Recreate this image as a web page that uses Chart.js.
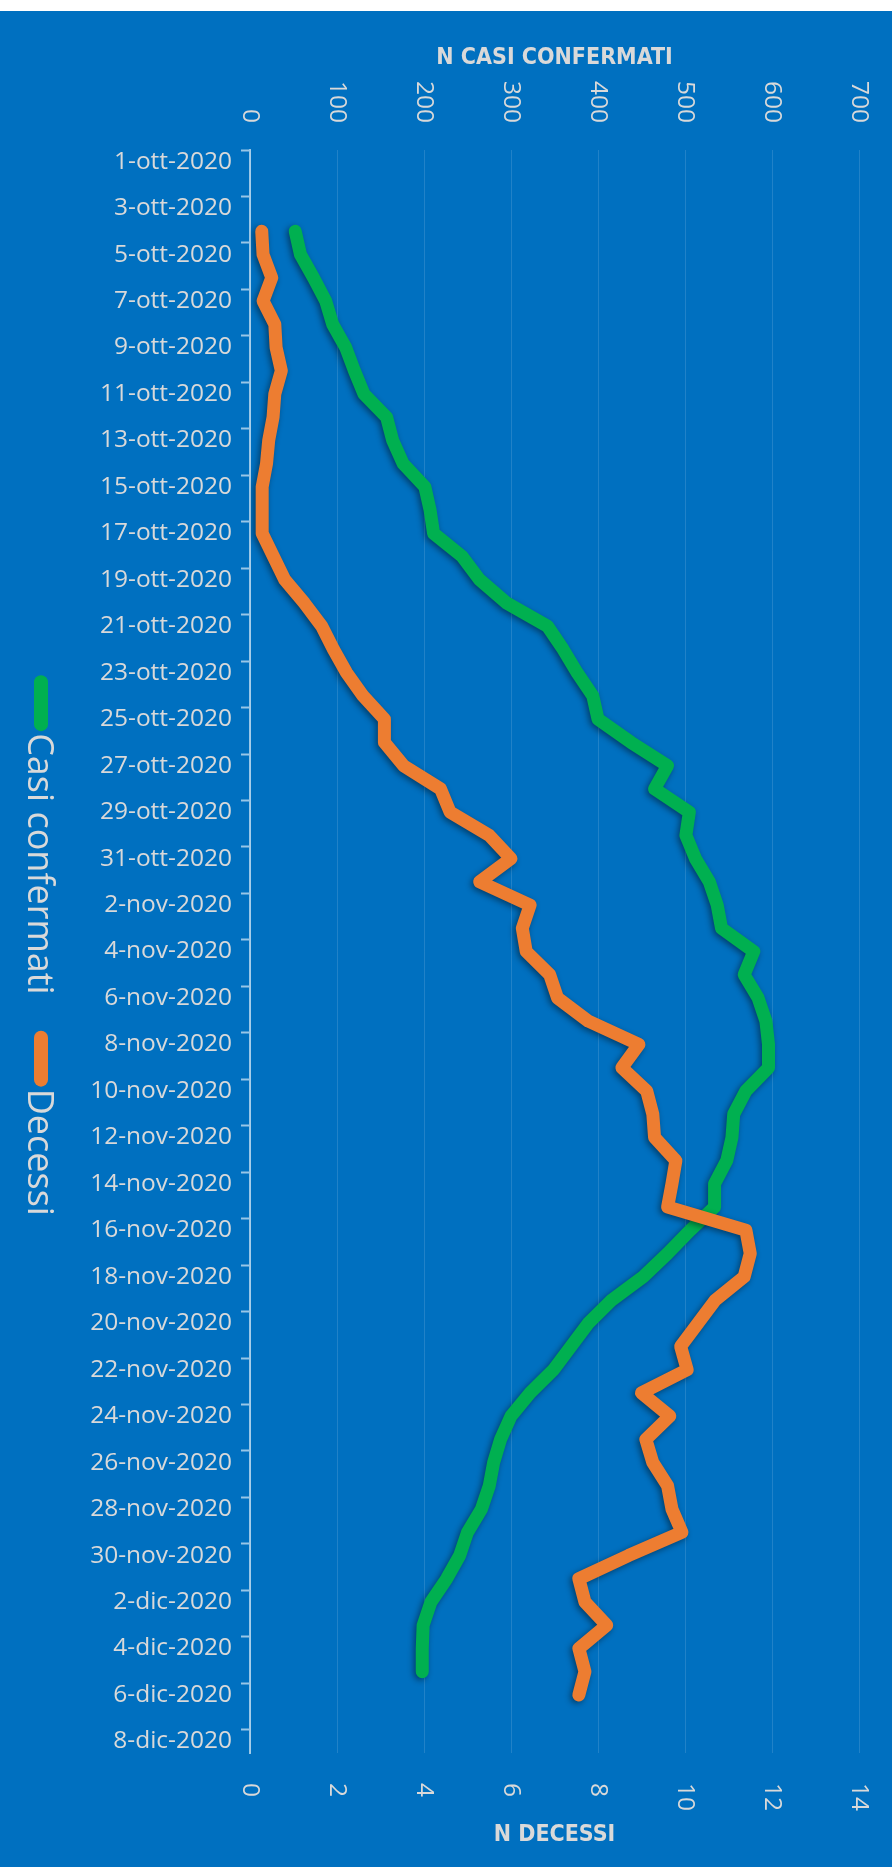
<!DOCTYPE html>
<html>
<head>
<meta charset="utf-8">
<script src="https://cdn.jsdelivr.net/npm/chart.js@4/dist/chart.umd.min.js"></script>
<style>
  html, body { margin: 0; padding: 0; background: #ffffff; }
  #wrap { margin-top: 11px; width: 892px; height: 1856px; background: #0070c0; }
  canvas { display: block; }
</style>
</head>
<body>
<div id="wrap"><canvas id="chart" width="892" height="1856"></canvas></div>
<script>
const dates = [
  '1-ott-2020', '2-ott-2020', '3-ott-2020', '4-ott-2020', '5-ott-2020', '6-ott-2020', '7-ott-2020',
  '8-ott-2020', '9-ott-2020', '10-ott-2020', '11-ott-2020', '12-ott-2020', '13-ott-2020', '14-ott-2020',
  '15-ott-2020', '16-ott-2020', '17-ott-2020', '18-ott-2020', '19-ott-2020', '20-ott-2020', '21-ott-2020',
  '22-ott-2020', '23-ott-2020', '24-ott-2020', '25-ott-2020', '26-ott-2020', '27-ott-2020', '28-ott-2020',
  '29-ott-2020', '30-ott-2020', '31-ott-2020',
  '1-nov-2020', '2-nov-2020', '3-nov-2020', '4-nov-2020', '5-nov-2020', '6-nov-2020', '7-nov-2020',
  '8-nov-2020', '9-nov-2020', '10-nov-2020', '11-nov-2020', '12-nov-2020', '13-nov-2020', '14-nov-2020',
  '15-nov-2020', '16-nov-2020', '17-nov-2020', '18-nov-2020', '19-nov-2020', '20-nov-2020', '21-nov-2020',
  '22-nov-2020', '23-nov-2020', '24-nov-2020', '25-nov-2020', '26-nov-2020', '27-nov-2020', '28-nov-2020',
  '29-nov-2020', '30-nov-2020',
  '1-dic-2020', '2-dic-2020', '3-dic-2020', '4-dic-2020', '5-dic-2020', '6-dic-2020', '7-dic-2020',
  '8-dic-2020'
];

// N casi confermati (from 4-ott to 5-dic)
const casiConfermati = [
  null, null, null,
  52, 58, 73, 87, 95, 110, 120, 131, 157, 164,
  176, 201, 207, 211, 244, 264, 295, 342, 360, 376,
  394, 400, 438, 480, 465, 505, 501, 512, 528, 537,
  542, 579, 568, 584, 593, 596, 596, 570, 556, 554,
  548, 534, 534, 506, 480, 452, 416, 389, 369, 349,
  322, 300, 288, 280, 275, 266, 250, 241, 226, 208,
  199, 198, 198,
  null, null, null
];

// N decessi (from 4-ott to 6-dic)
const decessi = [
  null, null, null,
  0.27, 0.3, 0.5, 0.3, 0.57, 0.6, 0.72, 0.57, 0.53, 0.43,
  0.38, 0.28, 0.28, 0.28, 0.54, 0.8, 1.25, 1.65, 1.92, 2.22,
  2.6, 3.09, 3.09, 3.53, 4.38, 4.6, 5.5, 6.0, 5.28, 6.44,
  6.26, 6.35, 6.89, 7.07, 7.78, 8.94, 8.55, 9.12, 9.26, 9.3,
  9.79, 9.7, 9.6, 11.4, 11.5, 11.36, 10.7, 10.3, 9.9, 10.05,
  9.0, 9.65, 9.1, 9.26, 9.6, 9.7, 9.93, 8.7, 7.56, 7.7,
  8.2, 7.56, 7.7, 7.56,
  null, null
];

const casiTicks = { min: 0, max: 700, step: 100 };
const decessiTicks = { min: 0, max: 14, step: 2 };

const TEXT = '#d9d9d9';
const GREEN = '#00b050';
const ORANGE = '#ed7d31';
const AXIS = 'rgba(255,255,255,0.6)';
const LABEL_FONT = "'Open Sans', sans-serif";
const TITLE_FONT = "'DejaVu Sans Condensed', 'Liberation Sans Narrow', sans-serif";

// x tick labels turned 90deg clockwise
const rotatedTicks = {
    id: 'rotatedTicks',
    afterDraw(chart) {
        const ctx = chart.ctx;
        const top = chart.scales.x;
        const bottom = chart.scales.x2;
        ctx.save();
        ctx.fillStyle = TEXT;
        ctx.font = '24.5px ' + LABEL_FONT;
        ctx.textBaseline = 'middle';
        top.ticks.forEach(t => {
            ctx.save();
            ctx.translate(top.getPixelForValue(t.value), top.bottom - 27);
            ctx.rotate(Math.PI / 2);
            ctx.textAlign = 'right';
            ctx.fillText(t.label, 0, 0);
            ctx.restore();
        });
        bottom.ticks.forEach(t => {
            ctx.save();
            ctx.translate(bottom.getPixelForValue(t.value), bottom.top + 30);
            ctx.rotate(Math.PI / 2);
            ctx.textAlign = 'left';
            ctx.fillText(t.label, 0, 0);
            ctx.restore();
        });
        ctx.restore();
    }
};

// vertical legend on the left side
const sideLegend = {
    id: 'sideLegend',
    afterDraw(chart) {
        const ctx = chart.ctx;
        const area = chart.chartArea;
        ctx.save();
        ctx.font = '36px ' + LABEL_FONT;
        const items = chart.data.datasets.map(ds => ({
            text: ds.label, color: ds.borderColor, w: ctx.measureText(ds.label).width
        }));
        const mark = 56, gap = 2, itemGap = 36;
        const total = items.reduce((s, it) => s + mark + gap + it.w, 0) + itemGap * (items.length - 1);
        let y = (area.top + area.bottom) / 2 - total / 2 - 6;
        items.forEach(it => {
            ctx.strokeStyle = it.color;
            ctx.lineWidth = 14;
            ctx.lineCap = 'round';
            ctx.beginPath();
            ctx.moveTo(41, y + 7);
            ctx.lineTo(41, y + mark - 7);
            ctx.stroke();
            y += mark + gap;
            ctx.save();
            ctx.translate(28, y);
            ctx.rotate(Math.PI / 2);
            ctx.fillStyle = TEXT;
            ctx.textAlign = 'left';
            ctx.textBaseline = 'alphabetic';
            ctx.fillText(it.text, 0, 0);
            ctx.restore();
            y += it.w + itemGap;
        });
        ctx.restore();
    }
};

const lineShadow = {
    id: 'lineShadow',
    beforeDatasetDraw(chart) {
        const ctx = chart.ctx;
        ctx.save();
        ctx.shadowColor = 'rgba(0,0,0,0.45)';
        ctx.shadowBlur = 6;
        ctx.shadowOffsetX = -2;
        ctx.shadowOffsetY = 2;
    },
    afterDatasetDraw(chart) {
        chart.ctx.restore();
    }
};

new Chart(document.getElementById('chart'), {
    type: 'line',
    data: {
        labels: dates,
        datasets: [{
            label: 'Casi confermati',
            data: casiConfermati,
            xAxisID: 'x',
            borderColor: GREEN,
            borderWidth: 13,
            order: 1
        }, {
            label: 'Decessi',
            data: decessi,
            xAxisID: 'x2',
            borderColor: ORANGE,
            borderWidth: 13,
            order: 0
        }]
    },
    options: {
        indexAxis: 'y',
        responsive: false,
        animation: false,
        layout: { padding: { top: 0, bottom: 0, left: 0, right: 33 } },
        elements: {
            point: { radius: 0 },
            line: { tension: 0, borderCapStyle: 'round', borderJoinStyle: 'round' }
        },
        plugins: { legend: { display: false }, tooltip: { enabled: false } },
        scales: {
            x: {
                type: 'linear',
                position: 'top',
                min: casiTicks.min,
                max: casiTicks.max,
                ticks: { stepSize: casiTicks.step, display: false },
                grid: { color: 'rgba(255,255,255,0.13)', lineWidth: 1, drawTicks: false },
                border: { display: false },
                title: {
                    display: true,
                    text: 'N CASI CONFERMATI',
                    color: TEXT,
                    font: { family: TITLE_FONT, size: 23, weight: 'bold' },
                    padding: { top: 33, bottom: 0 }
                },
                afterFit: s => { s.height = 139; }
            },
            x2: {
                type: 'linear',
                position: 'bottom',
                min: decessiTicks.min,
                max: decessiTicks.max,
                ticks: { stepSize: decessiTicks.step, display: false },
                grid: { drawOnChartArea: false, drawTicks: false },
                border: { display: false },
                title: {
                    display: true,
                    text: 'N DECESSI',
                    color: TEXT,
                    font: { family: TITLE_FONT, size: 23, weight: 'bold' },
                    padding: { top: 0, bottom: 18 }
                },
                afterFit: s => { s.height = 114; }
            },
            y: {
                type: 'category',
                position: 'left',
                offset: true,
                ticks: {
                    autoSkip: false,
                    color: TEXT,
                    padding: 9,
                    font: { family: LABEL_FONT, size: 24.5 },
                    callback: function(value, index) {
                        return index % 2 === 0 ? this.getLabelForValue(value) : '';
                    }
                },
                grid: {
                    offset: true,
                    drawOnChartArea: false,
                    tickLength: 9,
                    tickWidth: 2,
                    tickColor: c => (c.index !== undefined && c.index % 2 === 0) ? AXIS : 'rgba(0,0,0,0)'
                },
                border: { display: true, color: AXIS, width: 2 },
                afterFit: s => { s.width = 250; }
            }
        }
    },
    plugins: [lineShadow, rotatedTicks, sideLegend]
});
</script>
</body>
</html>
